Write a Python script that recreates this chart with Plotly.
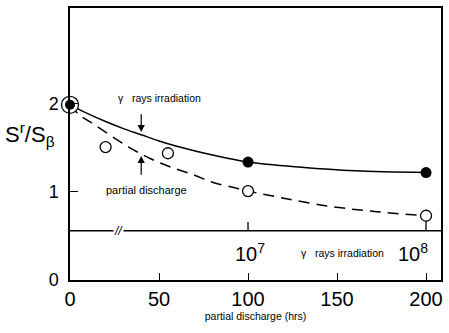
import plotly.graph_objects as go

# ---- data ----
gamma_x = [0, 100, 200]
gamma_y = [1.99, 1.34, 1.22]
pd_x = [0, 20, 55, 100, 200]
pd_y = [1.99, 1.51, 1.44, 1.01, 0.73]

gamma_curve_x = [0, 10, 20, 30, 40, 50, 60, 80, 100, 130, 160, 200]
gamma_curve_y = [1.99, 1.89, 1.80, 1.72, 1.65, 1.58, 1.52, 1.42, 1.34, 1.28, 1.24, 1.22]
pd_curve_x = [0, 5, 14, 33, 45, 57, 70, 80, 92, 100, 120, 145, 170, 200]
pd_curve_y = [1.99, 1.88, 1.76, 1.51, 1.38, 1.28, 1.19, 1.11, 1.05, 1.01, 0.93, 0.84, 0.78, 0.73]

origin_x = [0]
origin_y = [1.99]

break_y = 0.56
dose_tick_x = [100, 200]
dose_tick_labels = ["10<sup>7</sup>", "10<sup>8</sup>"]

x_tickvals = [0, 50, 100, 150, 200]
x_ticktext = ["0", "50", "100", "150", "200"]
y_tickvals = [0, 1, 2]
y_ticktext = ["0", "1", "2"]

FONT = "Liberation Sans"

fig = go.Figure()

# fitted curves
fig.add_trace(go.Scatter(x=gamma_curve_x, y=gamma_curve_y, mode="lines",
                         line=dict(color="black", width=1.5, shape="spline", smoothing=1.0),
                         hoverinfo="skip", cliponaxis=False))
fig.add_trace(go.Scatter(x=pd_curve_x, y=pd_curve_y, mode="lines",
                         line=dict(color="black", width=1.5, dash="11px,7px", shape="spline"),
                         hoverinfo="skip", cliponaxis=False))

# break line for the gamma dose axis
bx = [0, x_tickvals[-1] + 9]
fig.add_trace(go.Scatter(x=bx, y=[break_y, break_y], mode="lines",
                         line=dict(color="black", width=1.5), hoverinfo="skip", cliponaxis=False))
tx, ty = [], []
for xv in dose_tick_x:
    tx += [xv, xv, None]
    ty += [break_y, break_y + 0.1, None]
fig.add_trace(go.Scatter(x=tx, y=ty, mode="lines",
                         line=dict(color="black", width=1.3), hoverinfo="skip", cliponaxis=False))

# markers
fig.add_trace(go.Scatter(x=pd_x[1:], y=pd_y[1:], mode="markers",
                         marker=dict(symbol="circle", size=11, color="white",
                                     line=dict(color="black", width=1.3)),
                         cliponaxis=False))
fig.add_trace(go.Scatter(x=gamma_x[1:], y=gamma_y[1:], mode="markers",
                         marker=dict(symbol="circle", size=11, color="black"),
                         cliponaxis=False))
fig.add_trace(go.Scatter(x=origin_x, y=origin_y, mode="markers",
                         marker=dict(symbol="circle", size=17, color="white",
                                     line=dict(color="black", width=1.3)),
                         cliponaxis=False))
fig.add_trace(go.Scatter(x=origin_x, y=origin_y, mode="markers",
                         marker=dict(symbol="circle", size=10, color="black"),
                         cliponaxis=False))

ann = []
# break mark
ann.append(dict(x=27, y=break_y, text="<i>//</i>", showarrow=False,
                font=dict(family=FONT, size=12, color="black"), bgcolor="white",
                borderpad=0))
# dose labels
for xv, lab in zip(dose_tick_x, dose_tick_labels):
    ann.append(dict(x=xv, y=0.31, text=lab, showarrow=False,
                    xanchor="center" if xv < 150 else "right",
                    xshift=2 if xv < 150 else 4,
                    font=dict(family=FONT, size=20, color="black")))
ann.append(dict(x=153, y=0.31, text="γ   rays irradiation", showarrow=False,
                font=dict(family=FONT, size=10.5, color="black")))
ann.append(dict(x=50, y=2.07, text="γ   rays irradiation", showarrow=False,
                font=dict(family=FONT, size=10.5, color="black")))
ann.append(dict(x=43, y=1.02, text="partial discharge", showarrow=False,
                font=dict(family=FONT, size=11, color="black")))
# arrows
ann.append(dict(x=40, y=1.68, ax=40, ay=1.9, xref="x", yref="y", axref="x", ayref="y",
                text="", showarrow=True, arrowhead=2, arrowsize=1.2, arrowwidth=1.2,
                arrowcolor="black"))
ann.append(dict(x=40, y=1.41, ax=40, ay=1.18, xref="x", yref="y", axref="x", ayref="y",
                text="", showarrow=True, arrowhead=2, arrowsize=1.2, arrowwidth=1.2,
                arrowcolor="black"))
# y axis title
ann.append(dict(x=-0.18, y=0.535, xref="paper", yref="paper",
                text="S<sup>r</sup>/S<sub>β</sub>", showarrow=False,
                font=dict(family=FONT, size=22, color="black")))

fig.update_layout(
    width=449, height=333,
    margin=dict(l=70, r=6, t=8, b=53),
    paper_bgcolor="white", plot_bgcolor="white",
    showlegend=False,
    annotations=ann,
    xaxis=dict(range=[0, 208.4], tickvals=x_tickvals, ticktext=x_ticktext,
               ticks="inside", ticklen=7, tickwidth=1.3, tickcolor="black",
               showline=True, linecolor="black", linewidth=1.5, mirror=True,
               showgrid=False, zeroline=False,
               tickfont=dict(family=FONT, size=20, color="black"),
               title=dict(text="partial discharge (hrs)", standoff=2,
                          font=dict(family=FONT, size=10.5, color="black"))),
    yaxis=dict(range=[0, 3.09], tickvals=y_tickvals, ticktext=y_ticktext,
               ticks="inside", ticklen=8, tickwidth=1.3, tickcolor="black",
               showline=True, linecolor="black", linewidth=1.5, mirror=True,
               showgrid=False, zeroline=False, ticklabelstandoff=6,
               tickfont=dict(family=FONT, size=18, color="black")),
)

fig.write_html("out.html")
